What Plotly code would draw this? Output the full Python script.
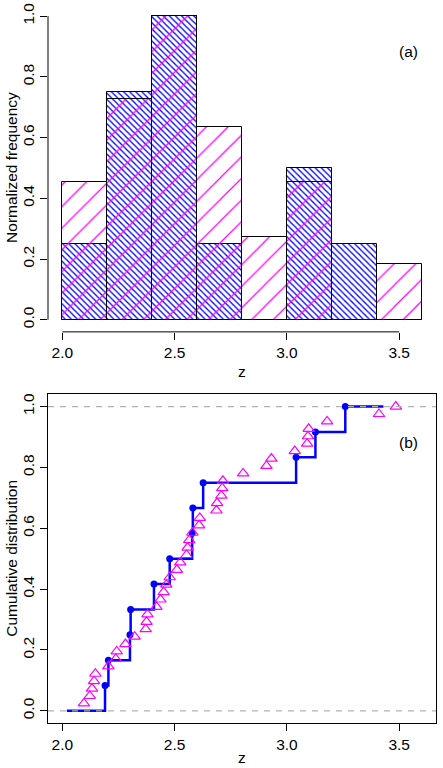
import numpy as np
import plotly.graph_objects as go

# ---------------- data ----------------
bin_edges = [2.0, 2.2, 2.4, 2.6, 2.8, 3.0, 3.2, 3.4, 3.6]
freq_blue = [0.25, 0.75, 1.0, 0.25, 0.0, 0.5, 0.25, 0.0]
freq_magenta = [0.455, 0.727, 1.0, 0.636, 0.273, 0.455, 0.0, 0.182]

z_blue = [2.190, 2.205, 2.301, 2.304, 2.408, 2.478, 2.578, 2.581,
          2.627, 3.041, 3.127, 3.260]
z_magenta = [2.096, 2.122, 2.132, 2.141, 2.147, 2.205, 2.238, 2.242, 2.281,
             2.322, 2.371, 2.375, 2.379, 2.419, 2.437, 2.451, 2.463, 2.478,
             2.510, 2.525, 2.553, 2.558, 2.565, 2.579, 2.609, 2.612, 2.686,
             2.689, 2.708, 2.712, 2.715, 2.805, 2.909, 2.931, 3.035, 3.090,
             3.094, 3.097, 3.179, 3.410, 3.485]
ecdf_xlim = [2.02, 3.43]
ref_levels = [0.0, 1.0]

x_ticks = [2.0, 2.5, 3.0, 3.5]
y_ticks = [0.0, 0.2, 0.4, 0.6, 0.8, 1.0]
x_range = [1.936, 3.664]
y_range = [-0.04, 1.04]

# ---------------- derived ----------------
edges = np.array(bin_edges)
centers = (edges[:-1] + edges[1:]) / 2
widths = np.diff(edges)

nb = len(z_blue)
nm = len(z_magenta)
cdf_blue = [(i + 1) / nb for i in range(nb)]
cdf_magenta = [(i + 1) / nm for i in range(nm)]
step_x = [ecdf_xlim[0]] + z_blue + [ecdf_xlim[1]]
step_y = [0.0] + cdf_blue + [1.0]

FONT = "Liberation Sans, Arial, Helvetica, sans-serif"
FS = 15.5
BLUE = "rgb(0,0,255)"
MAG = "rgb(255,0,255)"

fig = go.Figure()

fig.add_trace(go.Bar(
    x=centers, y=freq_blue, width=widths, xaxis="x", yaxis="y",
    marker=dict(color="rgba(0,0,0,0)",
                line=dict(color="black", width=1),
                pattern=dict(shape="\\", size=4.3, solidity=0.3,
                             fgcolor=BLUE, fgopacity=1, bgcolor="rgba(0,0,0,0)",
                             fillmode="overlay")),
    showlegend=False))
fig.add_trace(go.Bar(
    x=centers, y=freq_magenta, width=widths, xaxis="x", yaxis="y",
    marker=dict(color="rgba(0,0,0,0)",
                line=dict(color="black", width=1),
                pattern=dict(shape="/", size=15.3, solidity=0.08,
                             fgcolor=MAG, fgopacity=1, bgcolor="rgba(0,0,0,0)",
                             fillmode="overlay")),
    showlegend=False))

# bottom panel
fig.add_trace(go.Scatter(
    x=step_x, y=step_y, mode="lines", line=dict(color=BLUE, width=2.5, shape="hv"),
    xaxis="x2", yaxis="y2", showlegend=False, hoverinfo="skip"))
fig.add_trace(go.Scatter(
    x=z_blue, y=cdf_blue, mode="markers",
    marker=dict(color=BLUE, size=7, symbol="circle"),
    xaxis="x2", yaxis="y2", showlegend=False))
fig.add_trace(go.Scatter(
    x=z_magenta, y=cdf_magenta, mode="markers",
    marker=dict(color=MAG, size=10, symbol="triangle-up-open",
                line=dict(color=MAG, width=1.2)),
    xaxis="x2", yaxis="y2", showlegend=False))

shapes = []
# R-style detached axis lines on top panel, spanning first to last tick
shapes.append(dict(type="line", xref="x", yref="y domain",
                   x0=x_ticks[0], x1=x_ticks[-1], y0=0, y1=0,
                   line=dict(color="black", width=1)))
shapes.append(dict(type="line", xref="x domain", yref="y",
                   x0=0, x1=0, y0=y_ticks[0], y1=y_ticks[-1],
                   line=dict(color="black", width=1)))
for lv in ref_levels:
    shapes.append(dict(type="line", xref="x2 domain", yref="y2",
                       x0=0, x1=1, y0=lv, y1=lv, layer="above",
                       line=dict(color="rgb(179,179,179)", width=1.2, dash="6px,6px")))

axis_common = dict(showgrid=False, zeroline=False, ticks="outside", ticklen=7,
                   tickwidth=1, tickcolor="black", automargin=False,
                   tickfont=dict(family=FONT, size=FS, color="black"))

fig.update_layout(
    width=443, height=768,
    margin=dict(l=48, r=7, t=4, b=45),
    paper_bgcolor="white", plot_bgcolor="white",
    barmode="overlay", bargap=0,
    font=dict(family=FONT, size=FS, color="black"),
    shapes=shapes,
    xaxis=dict(domain=[0, 1], anchor="y", range=x_range, tickvals=x_ticks,
               tickformat=".1f", showline=False, **axis_common),
    yaxis=dict(domain=[0.544, 1], anchor="x", range=y_range, tickvals=y_ticks,
               tickformat=".1f", tickangle=-90, showline=False, **axis_common),
    xaxis2=dict(domain=[0, 1], anchor="y2", range=x_range, tickvals=x_ticks,
                tickformat=".1f", showline=True, mirror=True, linecolor="black",
                linewidth=1, **axis_common),
    yaxis2=dict(domain=[0, 0.457], anchor="x2", range=y_range, tickvals=y_ticks,
                tickformat=".1f", tickangle=-90, showline=True, mirror=True,
                linecolor="black", linewidth=1, **axis_common),
    annotations=[
        dict(text="Normalized frequency", xref="paper", yref="y domain", x=0, y=0.5,
             xanchor="center", yanchor="middle", xshift=-36, textangle=-90,
             showarrow=False, font=dict(family=FONT, size=FS)),
        dict(text="Cumulative distribution", xref="paper", yref="y2 domain", x=0, y=0.5,
             xanchor="center", yanchor="middle", xshift=-36, textangle=-90,
             showarrow=False, font=dict(family=FONT, size=FS)),
        dict(text="z", xref="x domain", yref="y domain", x=0.5, y=0,
             xanchor="center", yanchor="middle", yshift=-40,
             showarrow=False, font=dict(family=FONT, size=FS)),
        dict(text="z", xref="x2 domain", yref="y2 domain", x=0.5, y=0,
             xanchor="center", yanchor="middle", yshift=-34,
             showarrow=False, font=dict(family=FONT, size=FS)),
        dict(text="(a)", xref="x domain", yref="y domain", x=0.93, y=0.855,
             xanchor="center", yanchor="middle", showarrow=False,
             font=dict(family=FONT, size=FS)),
        dict(text="(b)", xref="x2 domain", yref="y2 domain", x=0.93, y=0.855,
             xanchor="center", yanchor="middle", showarrow=False,
             font=dict(family=FONT, size=FS)),
    ],
)

fig.write_html("out.html",
               config={"displayModeBar": False},
               post_script="document.body.style.margin='0';document.body.style.overflow='hidden';")
